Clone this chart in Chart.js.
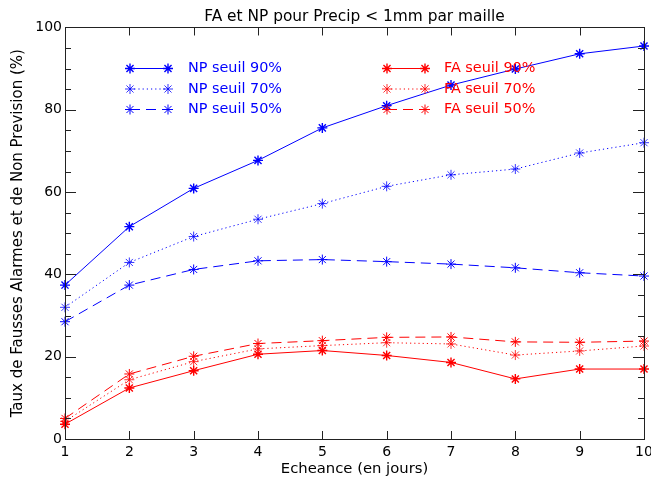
<!DOCTYPE html>
<html>
<head>
<meta charset="utf-8">
<script src="https://cdn.jsdelivr.net/npm/chart.js@4/dist/chart.umd.min.js"></script>
<style>
html,body{margin:0;padding:0;background:#fff;}
#c{display:block;}
</style>
</head>
<body>
<canvas id="c" width="651" height="482"></canvas>
<script>
// ---- data ----
const days = [1, 2, 3, 4, 5, 6, 7, 8, 9, 10];
const np90 = [37.4, 51.6, 60.9, 67.7, 75.6, 81.0, 86.0, 89.9, 93.6, 95.5];
const np70 = [32.0, 42.9, 49.2, 53.4, 57.2, 61.4, 64.2, 65.6, 69.5, 72.0];
const np50 = [28.5, 37.4, 41.2, 43.3, 43.6, 43.1, 42.5, 41.6, 40.4, 39.6];
const fa90 = [3.6, 12.4, 16.6, 20.6, 21.5, 20.3, 18.6, 14.6, 17.0, 17.0];
const fa70 = [4.3, 14.4, 18.8, 21.9, 22.7, 23.4, 23.1, 20.4, 21.4, 22.6];
const fa50 = [5.0, 15.8, 20.1, 23.2, 23.9, 24.7, 24.8, 23.6, 23.5, 23.8];
const seriesLabels = ['NP seuil 90%', 'NP seuil 70%', 'NP seuil 50%', 'FA seuil 90%', 'FA seuil 70%', 'FA seuil 50%'];
const titleText = 'FA et NP pour Precip < 1mm par maille';
const xTitle = 'Echeance (en jours)';
const yTitle = 'Taux de Fausses Alarmes et de Non Prevision (%)';

const FONT = '"DejaVu Sans", sans-serif';
const BLUE = '#0000ff', RED = '#ff0000';
const SOLID = [], DOT = [1.2, 3], DASH = [10, 6];

function ds(label, data, color, dash, pw) {
  return {
    label, data,
    borderColor: color, backgroundColor: color,
    borderWidth: 1, borderDash: dash,
    pointStyle: 'star', pointRadius: 5, pointBorderWidth: pw,
    pointBorderColor: color, pointBackgroundColor: color,
    pointHoverRadius: 5, tension: 0, fill: false, clip: false
  };
}

const datasets = [
  ds(seriesLabels[0], np90, BLUE, SOLID, 1.4),
  ds(seriesLabels[1], np70, BLUE, DOT, 0.8),
  ds(seriesLabels[2], np50, BLUE, DASH, 1.0),
  ds(seriesLabels[3], fa90, RED, SOLID, 1.4),
  ds(seriesLabels[4], fa70, RED, DOT, 0.8),
  ds(seriesLabels[5], fa50, RED, DASH, 1.0)
];

// frame with inward ticks (IDL style)
const framePlugin = {
  id: 'frame',
  afterDraw(chart) {
    const {ctx, chartArea: a, scales: {x, y}} = chart;
    ctx.save();
    ctx.strokeStyle = '#222';
    ctx.lineWidth = 1;
    ctx.setLineDash([]);
    ctx.strokeRect(Math.round(a.left) + 0.5, Math.round(a.top) + 0.5,
                   Math.round(a.right - a.left), Math.round(a.bottom - a.top));
    ctx.beginPath();
    for (let v = 0; v <= 100; v += 5) {
      const py = Math.round(y.getPixelForValue(v)) + 0.5;
      const len = v % 20 === 0 ? 11 : 6;
      ctx.moveTo(a.left, py); ctx.lineTo(a.left + len, py);
      ctx.moveTo(a.right, py); ctx.lineTo(a.right - len, py);
    }
    for (let i = 0; i < days.length; i++) {
      const px = Math.round(x.getPixelForValue(i)) + 0.5;
      ctx.moveTo(px, a.bottom); ctx.lineTo(px, a.bottom - 8);
      ctx.moveTo(px, a.top); ctx.lineTo(px, a.top + 8);
    }
    ctx.stroke();
    ctx.restore();
  }
};

// in-plot two-column legend
const legendPlugin = {
  id: 'inlegend',
  afterDatasetsDraw(chart) {
    const ctx = chart.ctx;
    const cols = [{x1: 130, x2: 168, tx: 188}, {x1: 387, x2: 425, tx: 444}];
    const rows = [68.5, 89, 109.5];
    chart.data.datasets.forEach((d, i) => {
      const c = cols[Math.floor(i / 3)], yy = rows[i % 3];
      ctx.save();
      ctx.strokeStyle = d.borderColor; ctx.lineWidth = 1;
      ctx.setLineDash(d.borderDash);
      ctx.beginPath(); ctx.moveTo(c.x1, yy); ctx.lineTo(c.x2, yy); ctx.stroke();
      ctx.setLineDash([]);
      [c.x1, c.x2].forEach(px => {
        if (Chart.helpers && Chart.helpers.drawPoint) {
          ctx.strokeStyle = d.borderColor; ctx.fillStyle = d.borderColor;
          ctx.lineWidth = d.pointBorderWidth;
          Chart.helpers.drawPoint(ctx, {pointStyle: 'star', radius: 5, rotation: 0, borderWidth: d.pointBorderWidth}, px, yy);
        }
      });
      ctx.fillStyle = d.borderColor;
      ctx.font = '14.4px ' + FONT;
      ctx.textBaseline = 'middle';
      ctx.textAlign = 'left';
      ctx.fillText(d.label, c.tx, yy);
      ctx.restore();
    });
  }
};

new Chart(document.getElementById('c'), {
  type: 'line',
  data: {labels: days, datasets},
  options: {
    responsive: false,
    devicePixelRatio: 1,
    animation: false,
    events: [],
    layout: {padding: {left: 0, right: 0, top: 0, bottom: 0}},
    plugins: {
      legend: {display: false},
      tooltip: {enabled: false},
      title: {
        display: true, text: titleText, fullSize: false, color: '#000',
        font: {family: FONT, size: 15.4, weight: 'normal'},
        padding: {top: 8, bottom: 1}
      }
    },
    scales: {
      x: {
        type: 'category', offset: false,
        grid: {display: false, drawTicks: false, tickLength: 0},
        border: {display: false},
        ticks: {color: '#000', font: {family: FONT, size: 14}, padding: 5, maxRotation: 0, autoSkip: false},
        title: {display: true, text: xTitle, color: '#000', font: {family: FONT, size: 14.8}, padding: {top: 4, bottom: 4}},
        afterFit(s) { s.height = 43; s.paddingRight = 7; s.paddingLeft = 0; }
      },
      y: {
        min: 0, max: 100,
        grid: {display: false, drawTicks: false, tickLength: 0},
        border: {display: false},
        ticks: {stepSize: 20, color: '#000', font: {family: FONT, size: 14}, padding: 3},
        title: {display: true, text: yTitle, color: '#000', font: {family: FONT, size: 15}, padding: {top: 9, bottom: 9}},
        afterFit(s) { s.width = 65; }
      }
    }
  },
  plugins: [framePlugin, legendPlugin]
});
</script>
</body>
</html>
